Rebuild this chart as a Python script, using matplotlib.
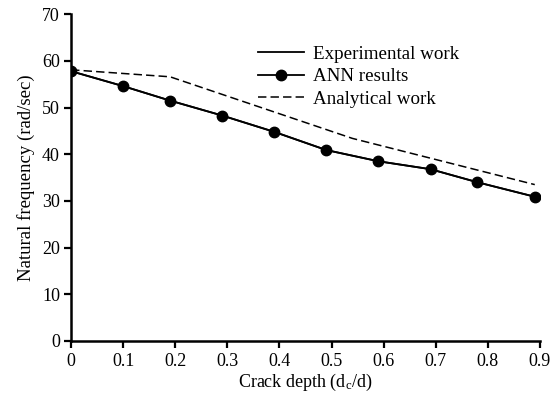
import matplotlib
matplotlib.use("Agg")
import matplotlib.pyplot as plt

# Natural frequency vs. relative crack depth
crack_depth = [0.0, 0.10, 0.19, 0.29, 0.39, 0.49, 0.59, 0.69, 0.78, 0.89]
experimental = [57.8, 54.6, 51.5, 48.3, 44.8, 40.9, 38.5, 36.8, 34.0, 30.9]
ann_results = [57.8, 54.6, 51.5, 48.3, 44.8, 40.9, 38.5, 36.8, 34.0, 30.9]

analytical_depth = [0.0, 0.19, 0.54, 0.89]
analytical = [58.1, 56.6, 43.4, 33.5]

x_ticks = [0, 0.1, 0.2, 0.3, 0.4, 0.5, 0.6, 0.7, 0.8, 0.9]
x_tick_labels = ["0", "0.1", "0.2", "0.3", "0.4", "0.5", "0.6", "0.7", "0.8", "0.9"]
y_ticks = [0, 10, 20, 30, 40, 50, 60, 70]

plt.rcParams["font.family"] = ["Liberation Serif", "DejaVu Serif"]
plt.rcParams["mathtext.fontset"] = "custom"
plt.rcParams["mathtext.rm"] = "Liberation Serif"
plt.rcParams["mathtext.it"] = "Liberation Serif"

fig = plt.figure(figsize=(5.51, 3.96), dpi=100)
ax = fig.add_axes([0.129, 0.139, 0.851, 0.825])

ax.plot(crack_depth, experimental, color="black", lw=1.3, label="Experimental work")
ax.plot(crack_depth, ann_results, color="black", lw=1.3, marker="o", ms=7.5,
        label="ANN results")
ax.plot(analytical_depth, analytical, color="black", lw=1.1, ls=(0, (5.5, 2.7)),
        label="Analytical work")

ax.set_xlim(0, 0.9)
ax.set_ylim(0, 70)
ax.set_xticks(x_ticks)
ax.set_xticklabels(x_tick_labels)
ax.set_yticks(y_ticks)

for side in ("top", "right"):
    ax.spines[side].set_visible(False)
for side in ("left", "bottom"):
    ax.spines[side].set_linewidth(1.8)
ax.tick_params(direction="out", length=5, width=1.6, labelsize=13, pad=3)
ax.tick_params(axis="x", pad=4)
ax.set_xlabel(r"Crack depth (d$_\mathrm{c}$/d)", fontsize=13, labelpad=1)
ax.set_ylabel("Natural frequency (rad/sec)", fontsize=13.5, labelpad=5)

ax.legend(loc="upper left", bbox_to_anchor=(0.399, 0.905), frameon=False,
          fontsize=13.7, handlelength=2.4, handletextpad=0.5, labelspacing=0.28,
          borderaxespad=0, borderpad=0)

fig.savefig("out.png", dpi=100)
